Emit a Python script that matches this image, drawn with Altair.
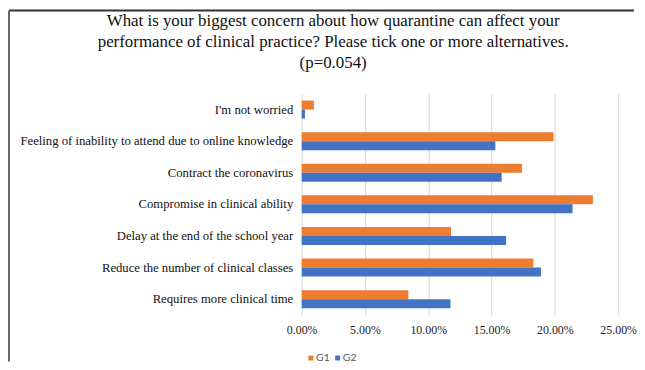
import altair as alt
import pandas as pd

categories = [
    "I'm not worried",
    "Feeling of inability to attend due to online knowledge",
    "Contract the coronavirus",
    "Compromise in clinical ability",
    "Delay at the end of the school year",
    "Reduce the number of clinical classes",
    "Requires more clinical time",
]
g1_values = [0.0097, 0.199, 0.174, 0.230, 0.118, 0.183, 0.0843]
g2_values = [0.0026, 0.153, 0.158, 0.214, 0.1615, 0.189, 0.1175]
groups = ["G1", "G2"]
colors = ["#ED7D31", "#4472C4"]
x_ticks = [0, 0.05, 0.10, 0.15, 0.20, 0.25]
title_lines = [
    "What is your biggest concern about how quarantine can affect your",
    "performance of clinical practice? Please tick one or more alternatives.",
    "(p=0.054)",
]

rows = []
for c, a, b in zip(categories, g1_values, g2_values):
    rows.append({"category": c, "group": "G1", "value": a})
    rows.append({"category": c, "group": "G2", "value": b})
df = pd.DataFrame(rows)

bars = alt.Chart(df).mark_bar().encode(
    x=alt.X(
        "value:Q",
        scale=alt.Scale(domain=[0, 0.25], nice=False),
        axis=alt.Axis(
            values=x_ticks,
            format=".2%",
            title=None,
            grid=True,
            gridColor="#d9d9d9",
            domain=False,
            ticks=False,
            tickSize=0,
            labelFlush=False,
            labelFont="Liberation Serif",
            labelFontSize=12,
            labelColor="#222222",
            labelPadding=10,
        ),
    ),
    y=alt.Y(
        "category:N",
        sort=categories,
        scale=alt.Scale(paddingInner=0.43, paddingOuter=0.215),
        axis=alt.Axis(
            title=None,
            ticks=False,
            domain=False,
            labelFont="Liberation Serif",
            labelFontSize=12.8,
            labelColor="#111111",
            labelPadding=9,
            labelLimit=400,
        ),
    ),
    yOffset=alt.YOffset("group:N", sort=groups, scale=alt.Scale(paddingInner=0)),
    color=alt.Color(
        "group:N",
        scale=alt.Scale(domain=groups, range=colors),
        legend=alt.Legend(
            title=None,
            orient="none",
            legendX=4,
            legendY=261,
            direction="horizontal",
            symbolType="square",
            symbolSize=25,
            symbolStrokeWidth=0,
            labelFont="Lato",
            labelFontSize=10.5,
            labelColor="#595959",
            labelOffset=0,
            columnPadding=2,
        ),
    ),
)

frame_data = alt.Data(values=[{"k": 1}])
frame_top = alt.Chart(frame_data).mark_rule(color="#333333", strokeWidth=2).encode(
    x=alt.value(-295), x2=alt.value(335), y=alt.value(-84)
)
frame_left = alt.Chart(frame_data).mark_rule(color="#666666", strokeWidth=2).encode(
    x=alt.value(-295), y=alt.value(-84), y2=alt.value(270)
)

chart = (
    alt.layer(frame_top, frame_left, bars)
    .properties(
        width=319,
        height=223,
        padding=0,
        title=alt.TitleParams(
            text=title_lines,
            font="Liberation Serif",
            fontSize=17,
            fontWeight="normal",
            color="#111111",
            lineHeight=21,
            anchor="middle",
            frame="bounds",
            offset=-63,
            dx=11,
        ),
    )
    .configure_view(stroke=None)
)

chart.save("out.html", embed_options={"renderer": "svg", "actions": False})
